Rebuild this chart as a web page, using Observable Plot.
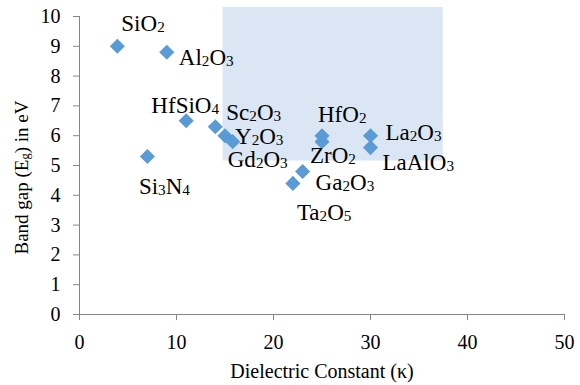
<!DOCTYPE html>
<html><head><meta charset="utf-8">
<script src="https://cdn.jsdelivr.net/npm/d3@7"></script>
<script src="https://cdn.jsdelivr.net/npm/@observablehq/plot@0.6"></script>
<style>body{margin:0;background:#fff} svg text{font-family:"Liberation Serif","Times New Roman",serif;}</style>
</head><body><div id="chart"></div>
<script>
// ---- data ----
const materials   = ["SiO2","Al2O3","HfSiO4","Si3N4","Sc2O3","Y2O3","Gd2O3","Ta2O5","Ga2O3","HfO2","ZrO2","La2O3","LaAlO3"];
const dielectricK = [3.9, 9, 11, 7, 14, 15, 15.8, 22, 23, 25, 25, 30, 30];
const bandGap     = [9.0, 8.8, 6.5, 5.3, 6.3, 6.0, 5.8, 4.4, 4.8, 6.0, 5.8, 6.0, 5.6];
const xTicks = [0, 10, 20, 30, 40, 50];
const yTicks = [0, 1, 2, 3, 4, 5, 6, 7, 8, 9, 10];
const regionK   = [14.8, 37.5];
const regionGap = [5.15, 10.3];
const xTitle = "Dielectric Constant (κ)";
const yTitle = "Band gap (Eg) in eV";

// ---- label placement (layout only): [dx, dy, anchor] ----
const labelLayout = [
  [4, -15, "start"],   // SiO2
  [12, 13, "start"],   // Al2O3
  [-1, -8, "middle"],  // HfSiO4
  [17, 37, "middle"],  // Si3N4
  [11, -7, "start"],   // Sc2O3
  [10, 8, "start"],    // Y2O3
  [-5, 25, "start"],   // Gd2O3
  [4, 37, "start"],    // Ta2O5
  [13, 19, "start"],   // Ga2O3
  [-4, -14, "start"],  // HfO2
  [-12, 21, "start"],  // ZrO2
  [15, 4, "start"],    // La2O3
  [12, 22, "start"]    // LaAlO3
];

const points = materials.map((m, i) => ({name: m, k: dielectricK[i], gap: bandGap[i]}));
const axisGray = "#868686";
const font = "Liberation Serif";

const labelMarks = points.map((p, i) => Plot.text([p], {
  x: "k", y: "gap", text: "name",
  dx: labelLayout[i][0], dy: labelLayout[i][1],
  textAnchor: labelLayout[i][2], lineAnchor: "bottom",
  fontSize: 23, fill: "black", fontFamily: font
}));

const chart = Plot.plot({
  width: 580, height: 385,
  marginLeft: 79, marginRight: 16, marginTop: 16, marginBottom: 71,
  style: {fontFamily: font, fontSize: "20px", background: "white", color: "black"},
  x: {domain: [0, 50]},
  y: {domain: [0, 10]},
  marks: [
    Plot.rect([{x1: regionK[0], x2: regionK[1], y1: regionGap[0], y2: regionGap[1]}],
      {x1: "x1", x2: "x2", y1: "y1", y2: "y2", fill: "#DAE6F4"}),
    Plot.axisX({ticks: xTicks, tickSize: 6, tickPadding: 14, stroke: axisGray, label: null, fontFamily: font, fontSize: 20, fill: "black", tickFormat: d => String(d)}),
    Plot.axisY({ticks: yTicks, tickSize: 6, tickPadding: 13, stroke: axisGray, label: null, fontFamily: font, fontSize: 20, fill: "black", tickFormat: d => String(d)}),
    Plot.ruleX([0], {stroke: axisGray}),
    Plot.ruleY([0], {stroke: axisGray}),
    Plot.dot(points, {x: "k", y: "gap", symbol: "diamond2", r: 6.8, fill: "#5B9BD5", stroke: "none"}),
    ...labelMarks,
    Plot.text([xTitle], {text: d => d, frameAnchor: "bottom", dy: 63, lineAnchor: "bottom", fontSize: 20, fontFamily: font}),
    Plot.text([yTitle], {text: d => d, frameAnchor: "left", rotate: -90, dx: -58, dy: 12, textAnchor: "middle", lineAnchor: "middle", fontSize: 19, fontFamily: font})
  ]
});

// subscripts for chemical formulas and the E_g symbol
const NS = "http://www.w3.org/2000/svg";
function rebuild(el, parts) {
  el.textContent = "";
  parts.forEach(([s, sub]) => {
    const t = document.createElementNS(NS, "tspan");
    t.textContent = s;
    if (sub) { t.setAttribute("font-size", "0.66em"); t.setAttribute("baseline-shift", "-1"); }
    el.appendChild(t);
  });
}
d3.select(chart).selectAll("text").each(function() {
  const s = this.textContent;
  if (s === yTitle) {
    rebuild(this, [["Band gap (E", false], ["g", true], [") in eV", false]]);
  } else if (/[A-Za-z]\d/.test(s)) {
    rebuild(this, s.match(/\d+|\D+/g).map(p => [p, /\d/.test(p)]));
  }
});
d3.select(chart).selectAll("text").style("font-family", "'Liberation Serif', serif").style("font-variant", "normal");

document.getElementById("chart").appendChild(chart);
</script>
</body></html>
